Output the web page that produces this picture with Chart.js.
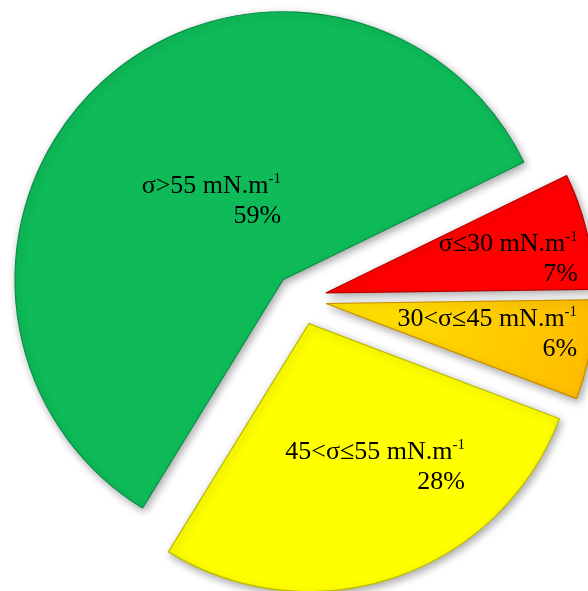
<!DOCTYPE html>
<html>
<head>
<meta charset="utf-8">
<script src="https://cdn.jsdelivr.net/npm/chart.js@4"></script>
<style>
  html, body { margin: 0; padding: 0; background: #ffffff; }
  #wrap { width: 588px; height: 591px; position: relative; }
</style>
</head>
<body>
<div id="wrap"><canvas id="pie"></canvas></div>
<script>
// Surface tension classes and their share of the samples (%)
const categories = ['σ≤30 mN.m', '30<σ≤45 mN.m', '45<σ≤55 mN.m', 'σ>55 mN.m'];
const unitExponent = '-1';
const shares = [7, 6, 28, 59];

// Fill and edge colours, one per class
const sliceFills = ['#FF0000', '#FFC000', '#FFFF00', '#0EBB58'];
const sliceEdges = ['#B80000', '#C98F00', '#BDBD00', '#07914A'];

// Layout: how far each slice is pulled out, and where each label sits
// (right edge / first baseline, relative to the slice tip)
const EXPLODE = 26;
const PIE_RADIUS = 268;
const labelOffsets = [[252, -42], [251, 22], [156, 135], [-2, -87]];
const LABEL_FONT = '26px "Liberation Serif", "Times New Roman", serif';
const SUP_FONT = '15px "Liberation Serif", "Times New Roman", serif';
const LINE_GAP = 30;

// Pull every slice outward along its bisector, with a soft drop shadow
const baseArcDraw = Chart.ArcElement.prototype.draw;
Chart.ArcElement.prototype.draw = function (ctx) {
  const mid = (this.startAngle + this.endAngle) / 2;
  ctx.save();
  ctx.translate(Math.cos(mid) * EXPLODE, Math.sin(mid) * EXPLODE);
  ctx.shadowColor = 'rgba(0,0,0,0.35)';
  ctx.shadowBlur = 8;
  ctx.shadowOffsetX = 2;
  ctx.shadowOffsetY = 3;
  baseArcDraw.call(this, ctx);
  ctx.restore();
};

function sliceFill(context) {
  const i = context.dataIndex;
  const area = context.chart.chartArea;
  if (i !== 1 || !area) return sliceFills[i];
  // the 30-45 class shades from yellow at the tip to amber at the rim
  const cx = (area.left + area.right) / 2;
  const cy = (area.top + area.bottom) / 2;
  const g = context.chart.ctx.createRadialGradient(cx, cy, 0, cx, cy, PIE_RADIUS);
  g.addColorStop(0, '#FFE600');
  g.addColorStop(1, '#FFBD00');
  return g;
}

const sliceLabels = {
  id: 'sliceLabels',
  afterDatasetsDraw(chart) {
    const ctx = chart.ctx;
    const meta = chart.getDatasetMeta(0);
    ctx.save();
    ctx.fillStyle = '#000000';
    ctx.textBaseline = 'alphabetic';
    meta.data.forEach((arc, i) => {
      const mid = (arc.startAngle + arc.endAngle) / 2;
      const tipX = arc.x + Math.cos(mid) * EXPLODE;
      const tipY = arc.y + Math.sin(mid) * EXPLODE;
      const right = tipX + labelOffsets[i][0];
      const base = tipY + labelOffsets[i][1];

      ctx.font = LABEL_FONT;
      const mainW = ctx.measureText(categories[i]).width;
      ctx.font = SUP_FONT;
      const supW = ctx.measureText(unitExponent).width;

      ctx.textAlign = 'left';
      ctx.font = LABEL_FONT;
      ctx.fillText(categories[i], right - mainW - supW, base);
      ctx.font = SUP_FONT;
      ctx.fillText(unitExponent, right - supW, base - 10);

      ctx.textAlign = 'right';
      ctx.font = LABEL_FONT;
      ctx.fillText(shares[i] + '%', right, base + LINE_GAP);
    });
    ctx.restore();
  }
};

new Chart(document.getElementById('pie'), {
  type: 'pie',
  data: {
    labels: categories,
    datasets: [{
      data: shares,
      backgroundColor: sliceFill,
      borderColor: sliceEdges,
      borderWidth: 1.2,
      offset: 0,
      hoverOffset: 0
    }]
  },
  options: {
    responsive: true,
    maintainAspectRatio: false,
    animation: false,
    events: [],
    rotation: 64,
    radius: PIE_RADIUS,
    layout: { padding: { left: 20, right: 7, top: 14, bottom: 7 } },
    plugins: {
      legend: { display: false },
      tooltip: { enabled: false }
    }
  },
  plugins: [sliceLabels]
});
</script>
</body>
</html>
